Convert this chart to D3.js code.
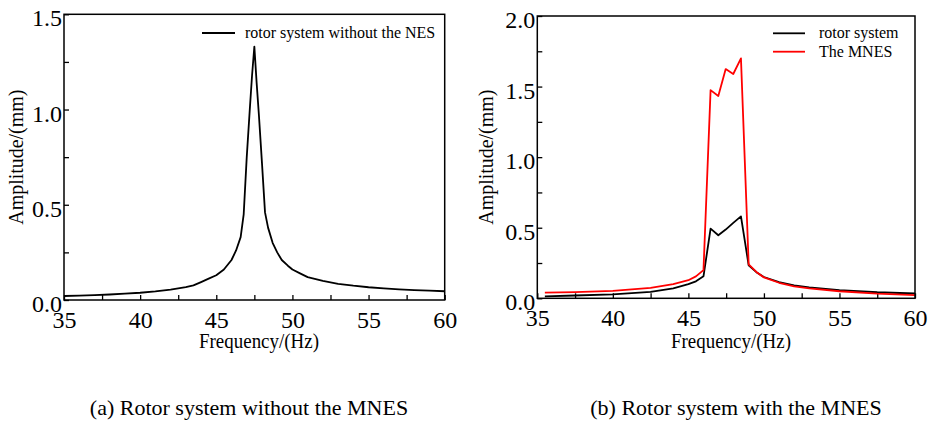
<!DOCTYPE html>
<html>
<head>
<meta charset="utf-8">
<style>
  body { margin: 0; background: #fff; }
  text { font-family: "Liberation Serif", "Times New Roman", serif; fill: #000; }
</style>
<script src="https://d3js.org/d3.v7.min.js"></script>
</head>
<body>
<svg width="929" height="423"></svg>
<script>
// (a) rotor system without the NES
var freqA = [35, 36, 37, 38, 39, 40, 41, 42, 43, 43.5, 44, 44.5, 45, 45.5, 46, 46.3, 46.6, 46.8, 47.0, 47.2, 47.35, 47.5,
             47.65, 47.8, 48.0, 48.2, 48.4, 48.7, 49.0, 49.3, 49.7, 50, 50.5, 51, 52, 53, 54, 55, 56, 57, 58, 59, 60];
var ampA = [0.021, 0.023, 0.026, 0.029, 0.033, 0.038, 0.045, 0.055, 0.068, 0.077, 0.094, 0.112, 0.13, 0.16, 0.21, 0.26, 0.33, 0.45, 0.75, 1.0, 1.18, 1.33,
            1.14, 0.97, 0.72, 0.46, 0.38, 0.3, 0.25, 0.21, 0.18, 0.16, 0.14, 0.12, 0.1, 0.085, 0.075, 0.067, 0.061, 0.056, 0.052, 0.049, 0.046];

// (b) rotor system with the MNES
var freqB = [35.5, 37.5, 40, 42.5, 44, 45, 45.5, 46, 46.47, 46.98, 47.47, 47.97, 48.48, 48.99, 49.5, 50, 51, 52, 53, 55, 57.5, 60];
var ampRotor = [0.014, 0.02, 0.028, 0.045, 0.07, 0.1, 0.12, 0.156, 0.494, 0.447, 0.487, 0.534, 0.58, 0.234, 0.185, 0.151, 0.115, 0.092, 0.077, 0.058, 0.043, 0.034];
var ampMNES = [0.04, 0.044, 0.052, 0.074, 0.1, 0.128, 0.155, 0.2, 1.475, 1.433, 1.624, 1.589, 1.70, 0.241, 0.187, 0.148, 0.11, 0.085, 0.07, 0.05, 0.033, 0.022];

var xTicks = [35, 37.5, 40, 42.5, 45, 47.5, 50, 52.5, 55, 57.5, 60];
var yTicksA = [0, 0.25, 0.5, 0.75, 1.0, 1.25, 1.5];
var yTicksB = [0, 0.25, 0.5, 0.75, 1.0, 1.25, 1.5, 1.75, 2.0];

var svg = d3.select("svg");
var serif = '"Liberation Serif", "Times New Roman", serif';

function panel(box, yMax, yTicks, series, legend, caption, capX, xTitleX, yTitleX) {
    var x = d3.scaleLinear().domain([35, 60]).range([box.left, box.right]);
    var y = d3.scaleLinear().domain([0, yMax]).range([box.bottom, box.top]);

    var xAxis = svg.append("g")
        .attr("transform", "translate(0," + box.bottom + ")")
        .call(d3.axisBottom(x).tickValues(xTicks).tickSizeInner(-5).tickSizeOuter(0).tickPadding(11)
            .tickFormat(function(d){ return d % 5 == 0 ? d : ""; }));
    var yAxis = svg.append("g")
        .attr("transform", "translate(" + box.left + ",0)")
        .call(d3.axisLeft(y).tickValues(yTicks).tickSizeInner(-5).tickSizeOuter(0).tickPadding(2)
            .tickFormat(function(d){ return (d * 2) % 1 == 0 ? d3.format(".1f")(d) : ""; }));

    [xAxis, yAxis].forEach(function(a) {
        a.attr("font-family", null);
        a.select(".domain").remove();
        a.selectAll(".tick line").attr("stroke", "#000").attr("stroke-width", 1.3);
        a.selectAll("text").style("font-family", serif).attr("font-size", 24).attr("fill", "#000");
    });
    yAxis.selectAll("text").attr("dy", "0.48em");

    var line = d3.line().x(function(d){ return x(d[0]); }).y(function(d){ return y(d[1]); });
    series.forEach(function(s) {
        svg.append("path")
           .datum(d3.zip(s.f, s.a))
           .attr("fill", "none")
           .attr("stroke", s.color)
           .attr("stroke-width", 1.8)
           .attr("stroke-linejoin", "round")
           .attr("d", line);
    });

    svg.append("rect")
       .attr("x", box.left).attr("y", box.top)
       .attr("width", box.right - box.left).attr("height", box.bottom - box.top)
       .attr("fill", "none").attr("stroke", "#000").attr("stroke-width", 1.5);

    legend.forEach(function(l) {
        svg.append("line")
           .attr("x1", l.x1).attr("x2", l.x2).attr("y1", l.ly).attr("y2", l.ly)
           .attr("stroke", l.color).attr("stroke-width", 1.8);
        svg.append("text")
           .attr("x", l.tx).attr("y", l.ty)
           .attr("font-size", 16)
           .text(l.label);
    });

    svg.append("text")
       .attr("x", xTitleX).attr("y", 348)
       .attr("text-anchor", "middle")
       .attr("font-size", 20)
       .attr("textLength", 120).attr("lengthAdjust", "spacingAndGlyphs")
       .text("Frequency/(Hz)");

    svg.append("text")
       .attr("transform", "translate(" + yTitleX + "," + ((box.top + box.bottom) / 2) + ") rotate(-90)")
       .attr("text-anchor", "middle")
       .attr("font-size", 20)
       .attr("textLength", 135).attr("lengthAdjust", "spacingAndGlyphs")
       .text("Amplitude/(mm)");

    svg.append("text")
       .attr("x", capX).attr("y", 415)
       .attr("text-anchor", "middle")
       .attr("font-size", 22)
       .text(caption);
}

panel({left: 64, right: 444.7, top: 14.3, bottom: 300}, 1.5, yTicksA,
      [{f: freqA, a: ampA, color: "#000"}],
      [{x1: 202, x2: 235, ly: 33, tx: 245, ty: 38, color: "#000", label: "rotor system without the NES"}],
      "(a) Rotor system without the MNES", 249, 259, 23);

panel({left: 537.3, right: 915, top: 16, bottom: 298.3}, 2.0, yTicksB,
      [{f: freqB, a: ampRotor, color: "#000"}, {f: freqB, a: ampMNES, color: "#ff0000"}],
      [{x1: 773, x2: 805, ly: 33.3, tx: 819, ty: 38, color: "#000", label: "rotor system"},
       {x1: 773, x2: 805, ly: 51.7, tx: 819, ty: 57, color: "#ff0000", label: "The MNES"}],
      "(b) Rotor system with the MNES", 736, 731, 493);
</script>
</body>
</html>
